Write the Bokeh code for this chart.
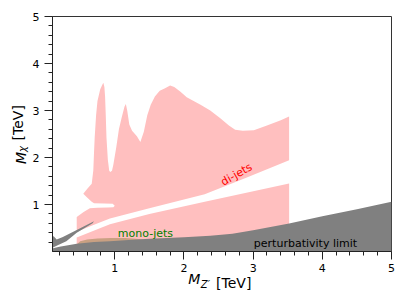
import math
from bokeh.plotting import figure
from bokeh.models import Label, FixedTicker, Range1d, LinearAxis
from bokeh.embed import file_html
from bokeh.resources import INLINE

# ---------------- data (M_Z', M_chi) in TeV ----------------
# upper di-jet excluded region
dijet_up_mz = [0.45, 0.45, 0.55, 0.64, 0.75, 0.90, 0.98, 1.00, 0.97, 0.85, 0.70, 0.667, 0.60, 0.545,
               0.60, 0.667, 0.69, 0.70, 0.71, 0.73, 0.75, 0.79, 0.82, 0.835, 0.85, 0.86, 0.87, 0.88,
               0.90, 0.92, 0.935, 0.96, 0.98, 1.02, 1.06, 1.10, 1.14, 1.16, 1.18, 1.21, 1.25, 1.32,
               1.37, 1.42, 1.47, 1.52, 1.58, 1.65, 1.72, 1.80, 1.86, 1.95, 2.04, 2.14, 2.24, 2.38,
               2.53, 2.65, 2.74, 2.85, 3.01, 3.20, 3.40, 3.52, 3.52, 2.90, 2.30, 1.50, 0.93, 0.70]
dijet_up_mchi = [0.42, 0.735, 0.84, 0.92, 0.93, 0.935, 0.94, 0.975, 1.015, 1.02, 1.025, 1.06, 1.15, 1.23,
                 1.33, 1.44, 1.73, 2.10, 2.43, 2.90, 3.20, 3.45, 3.55, 3.59, 3.50, 3.30, 2.90, 2.43,
                 1.95, 1.72, 1.69, 1.72, 1.85, 2.20, 2.60, 2.85, 3.08, 3.14, 3.00, 2.70, 2.57, 2.45,
                 2.33, 2.55, 2.90, 3.12, 3.30, 3.42, 3.47, 3.53, 3.50, 3.40, 3.28, 3.20, 3.12, 3.00,
                 2.83, 2.68, 2.59, 2.57, 2.58, 2.68, 2.79, 2.87, 1.94, 1.57, 1.22, 0.92, 0.70, 0.57]

# lower di-jet excluded region
dijet_lo_mz = [0.45, 0.45, 0.93, 1.50, 2.30, 3.52, 3.52]
dijet_lo_mchi = [0.10, 0.30, 0.58, 0.80, 1.06, 1.445, 0.30]

# mono-jet excluded region
monojet_mz = [0.45, 0.50, 0.60, 0.75, 0.95, 1.15, 1.30, 1.42, 1.50, 1.50, 0.45]
monojet_mchi = [0.15, 0.22, 0.255, 0.275, 0.285, 0.285, 0.27, 0.255, 0.24, 0.10, 0.10]

# perturbativity limit (lower band)
pert_mz = [0.08, 0.20, 0.45, 0.70, 0.93, 1.20, 1.50, 2.00, 2.38, 2.70, 3.00, 3.52, 4.00, 4.50, 5.00, 5.00, 0.08]
pert_mchi = [0.06, 0.10, 0.165, 0.20, 0.22, 0.245, 0.27, 0.305, 0.335, 0.38, 0.45, 0.595, 0.75, 0.90, 1.06, 0.0, 0.0]

# perturbativity limit (wedge at small masses)
wedge_mz = [0.08, 0.08, 0.12, 0.16, 0.25, 0.40, 0.55, 0.70, 0.68, 0.45, 0.30, 0.16, 0.09]
wedge_mchi = [0.10, 0.345, 0.32, 0.255, 0.31, 0.42, 0.53, 0.645, 0.60, 0.40, 0.22, 0.12, 0.075]

x_major = [1, 2, 3, 4, 5]
y_major = [1, 2, 3, 4, 5]

FONT = "DejaVu Sans"

# ---------------- figure ----------------
p = figure(width=399, height=297, output_backend="svg", toolbar_location=None,
           x_range=Range1d(0.1, 5.0), y_range=Range1d(0.0, 5.0),
           min_border_left=52, min_border_right=8, min_border_top=16, min_border_bottom=46)
p.xgrid.visible = False
p.ygrid.visible = False
p.background_fill_color = "white"
p.border_fill_color = "white"
p.outline_line_color = "#333333"
p.outline_line_width = 1

p.patch(dijet_up_mz, dijet_up_mchi, fill_color="#ffbfbf", line_color=None)
p.patch(dijet_lo_mz, dijet_lo_mchi, fill_color="#ffbfbf", line_color=None)
p.patch(monojet_mz, monojet_mchi, fill_color="#c9a082", line_color=None)
p.patch(pert_mz, pert_mchi, fill_color="#808080", line_color=None)
p.patch(wedge_mz, wedge_mchi, fill_color="#808080", line_color=None)

minor = [round(0.2 * i, 2) for i in range(1, 26) if i % 5 != 0]
for ax, maj in ((p.xaxis[0], x_major), (p.yaxis[0], y_major)):
    ax.ticker = FixedTicker(ticks=maj, minor_ticks=minor)
    ax.axis_line_color = "#222222"
    ax.major_tick_line_color = "#222222"
    ax.minor_tick_line_color = "#222222"
    ax.major_tick_out = 8
    ax.major_tick_in = 0
    ax.minor_tick_out = 4
    ax.minor_tick_in = 0
    ax.major_label_text_font = FONT
    ax.major_label_text_font_size = "11px"
    ax.major_label_text_color = "black"
p.xaxis[0].major_label_standoff = 4
p.yaxis[0].major_label_standoff = 5
p.yaxis[0].major_label_orientation = "horizontal"


# axis titles built from label-only axes (so that the pieces can be styled separately)
def title_piece(side, pos, text, size, italic, standoff):
    ax = LinearAxis(ticker=FixedTicker(ticks=[pos], minor_ticks=[]),
                    major_label_overrides={pos: text})
    ax.axis_line_color = None
    ax.major_tick_line_color = None
    ax.minor_tick_line_color = None
    ax.major_tick_out = 0
    ax.major_tick_in = 0
    ax.minor_tick_out = 0
    ax.minor_tick_in = 0
    ax.major_label_text_font = FONT
    ax.major_label_text_font_size = size
    ax.major_label_text_color = "black"
    ax.major_label_text_font_style = "italic" if italic else "normal"
    ax.major_label_standoff = standoff
    if side == "left":
        ax.major_label_orientation = "vertical"
    p.add_layout(ax, side)


# x: M_Z' [TeV]
title_piece("below", 2.15, "M", "14px", True, -4)
title_piece("below", 2.31, "Z′", "10px", True, -11)
title_piece("below", 2.72, "[TeV]", "14px", False, -18)
# y: M_chi [TeV]
title_piece("left", 1.99, "M", "14px", True, 0)
title_piece("left", 2.18, "χ", "10px", True, -18)
title_piece("left", 2.74, "[TeV]", "14px", False, -16)


def lab(text, x, y, size, color="black", angle=0.0, align="left", baseline="alphabetic"):
    p.add_layout(Label(x=x, y=y, text=text, text_font=FONT, text_font_size=size,
                       text_color=color, angle=angle, text_align=align, text_baseline=baseline))


# annotations
lab("di-jets", 2.76, 1.638, "11px", color="red", angle=math.radians(30), align="center", baseline="middle")
lab("mono-jets", 1.044, 0.377, "11px", color="green")
lab("perturbativity limit", 3.01, 0.177, "11px", color="black")

open("out.html", "w").write(file_html(p, INLINE))
